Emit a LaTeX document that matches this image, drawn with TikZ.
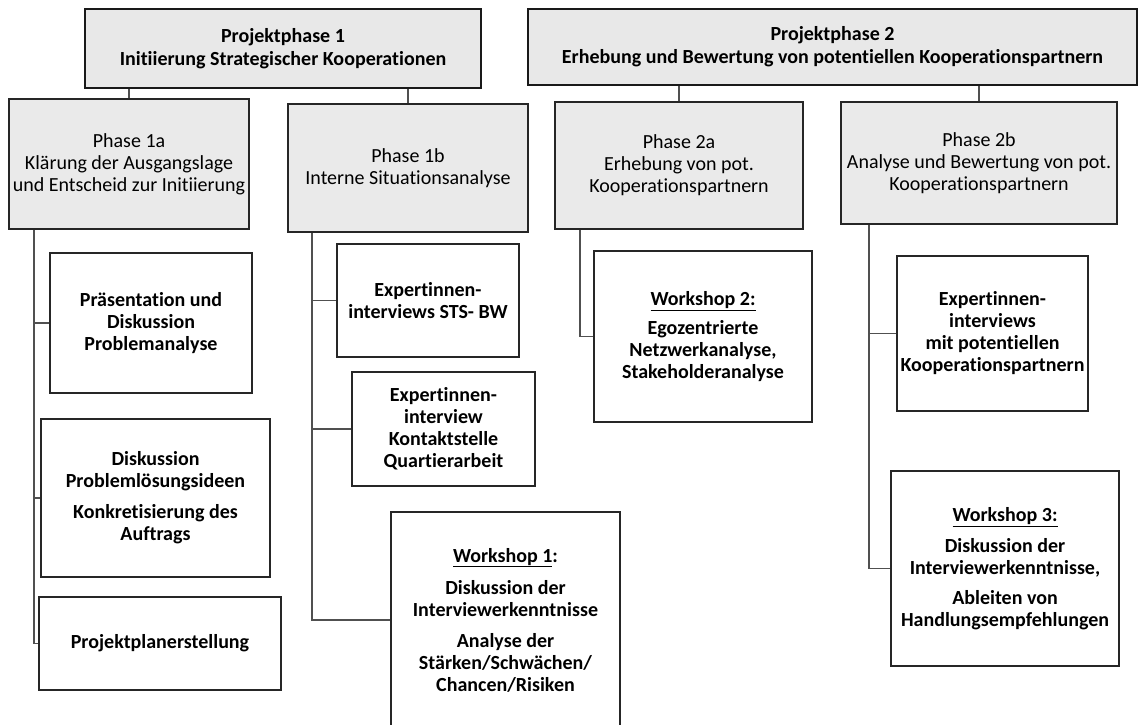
\documentclass[tikz,border=0pt]{standalone}
\usepackage{fontspec}
\setmainfont{Carlito}[Ligatures=NoCommon]
\definecolor{topgray}{HTML}{E8E8E8}
\definecolor{phgray}{HTML}{EAEAEA}
\definecolor{linkgray}{HTML}{505050}
\begin{document}
\begin{tikzpicture}[x=1pt,y=-1pt,
  topbox/.style={draw=black!90, line width=2.2pt, fill=topgray, align=center, inner sep=0pt,
    font=\bfseries\fontsize{20}{23}\selectfont},
  phasebox/.style={draw=black!85, line width=1.5pt, fill=phgray, align=center, inner sep=0pt,
    font=\fontsize{20}{22}\selectfont},
  taskbox/.style={draw=black!85, line width=1.6pt, fill=white, align=center, inner sep=0pt,
    font=\bfseries\fontsize{20}{22}\selectfont},
  link/.style={draw=linkgray, line width=1.1pt},
  sz/.style 2 args={minimum width=#1pt, minimum height=#2pt}]
\useasboundingbox (0,0) rectangle (1139,724);

% top boxes
\node[topbox, sz={396}{79}] (p1) at (283,48.5) {Projektphase 1\\Initiierung Strategischer Kooperationen};
\node[topbox, sz={609}{76}] (p2) at (832.5,47) {Projektphase 2\\Erhebung und Bewertung von potentiellen Kooperationspartnern};

% phase boxes
\node[phasebox, sz={240}{130}] (ph1a) at (129,164) {Phase 1a\\Klärung der Ausgangslage\\und Entscheid zur Initiierung};
\node[phasebox, sz={240}{128}] (ph1b) at (408,168) {Phase 1b\\Interne Situationsanalyse};
\node[phasebox, sz={248}{127}] (ph2a) at (679,165.5) {Phase 2a\\Erhebung von pot.\\Kooperationspartnern};
\node[phasebox, sz={276}{122}] (ph2b) at (979,163) {Phase 2b\\Analyse und Bewertung von pot.\\Kooperationspartnern};

% task boxes
\node[taskbox, sz={202}{140}] (praes) at (151,323) {Präsentation und\\Diskussion\\Problemanalyse};
\node[taskbox, sz={229}{158}] (disk) at (155.5,498) {Diskussion\\Problemlösungsideen\\[9pt]Konkretisierung des\\Auftrags};
\node[taskbox, sz={242}{93}] (plan) at (160,643.5) {Projektplanerstellung};

\node[taskbox, sz={182}{113}] (sts) at (428,300.5) {Expertinnen-\\interviews STS- BW};
\node[taskbox, sz={183}{114}] (kontakt) at (443.5,429) {Expertinnen-\\interview\\Kontaktstelle\\Quartierarbeit};
\node[taskbox, sz={229}{216}] (ws1) at (505.5,620) {\underline{Workshop 1}:\\[10pt]Diskussion der\\Interviewerkenntnisse\\[9pt]Analyse der\\Stärken/Schwächen/\\Chancen/Risiken};

\node[taskbox, sz={218}{171}] (ws2) at (703,336.5) {\underline{Workshop 2:}\\[7pt]Egozentrierte\\Netzwerkanalyse,\\Stakeholderanalyse};

\node[taskbox, sz={191}{155}] (exp2b) at (992.5,333.5) {Expertinnen-\\interviews\\mit potentiellen\\Kooperationspartnern};
\node[taskbox, sz={228}{195}] (ws3) at (1005,568.5) {\underline{Workshop 3:}\\[9pt]Diskussion der\\Interviewerkenntnisse,\\[8pt]Ableiten von\\Handlungsempfehlungen};

% trunk coordinates
\coordinate (ta) at (34,0);
\coordinate (tb) at (312,0);
\coordinate (tc) at (580,0);
\coordinate (td) at (869,0);

% connectors top -> phase
\draw[link] (p1.south -| ph1a.north) -- (ph1a.north);
\draw[link] (p1.south -| ph1b.north) -- (ph1b.north);
\draw[link] (p2.south -| ph2a.north) -- (ph2a.north);
\draw[link] (p2.south -| ph2b.north) -- (ph2b.north);

% phase -> tasks
\draw[link] (ph1a.south -| ta) |- (praes.west);
\draw[link] (ph1a.south -| ta) |- (disk.west);
\draw[link] (ph1a.south -| ta) |- (plan.west);

\draw[link] (ph1b.south -| tb) |- (sts.west);
\draw[link] (ph1b.south -| tb) |- (kontakt.west);
\draw[link] (ph1b.south -| tb) |- (ws1.west);

\draw[link] (ph2a.south -| tc) |- (ws2.west);

\draw[link] (ph2b.south -| td) |- (exp2b.west);
\draw[link] (ph2b.south -| td) |- (ws3.west);
\end{tikzpicture}
\end{document}
